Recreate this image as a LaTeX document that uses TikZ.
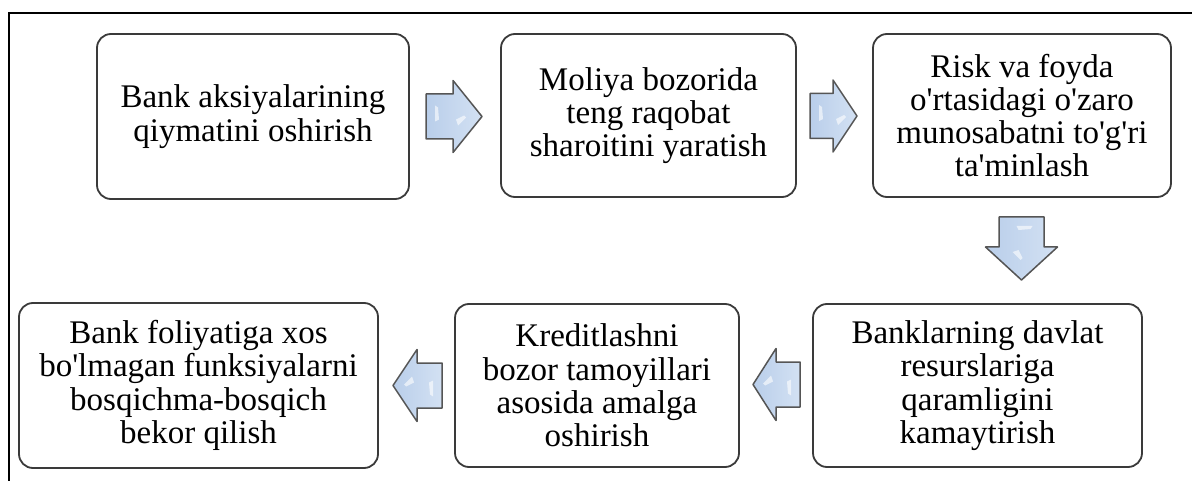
\documentclass[tikz,border=0pt]{standalone}
\usepackage{fontspec}
\setmainfont{Liberation Serif}[Ligatures=TeXOff]
\definecolor{boxline}{HTML}{3A3A3A}
\definecolor{arrowline}{HTML}{555555}
\definecolor{arrowA}{HTML}{B9CEEA}
\definecolor{arrowB}{HTML}{D3E1F3}
\newcommand\blockarrow[5]{%
  \begin{scope}[shift={(#1,#2)},rotate=#3]
    \draw[arrowbody] (-#4/2,-22.5) -- (#4/2-#5,-22.5) -- (#4/2-#5,-36) -- (#4/2,0)
      -- (#4/2-#5,36) -- (#4/2-#5,22.5) -- (-#4/2,22.5) -- cycle;
    \fill[arrowshine] (-#4/2+9,-11) -- (-#4/2+12,-9) -- (-#4/2+13,3) -- (-#4/2+9,5) -- cycle;
    \fill[arrowshine] (#4/2-#5+3,3) -- (#4/2-#5+11,-1) -- (#4/2-#5+13,1) -- (#4/2-#5+5,9) -- cycle;
  \end{scope}}
\begin{document}
\begin{tikzpicture}[x=1pt,y=-1pt,
  stage/.style={draw=boxline, line width=1.8pt, rounded corners=14pt, fill=white,
    align=center, inner sep=0pt, font=\fontsize{33}{33.3}\selectfont},
  arrowbody/.style={draw=arrowline, line width=1.5pt, line join=round,
    left color=arrowA, right color=arrowB},
  arrowshine/.style={fill=white, opacity=0.6},
  frameline/.style={draw=black, line width=2.6pt}]
\useasboundingbox (0,0) rectangle (1192,481);
\draw[frameline] (9,481) -- (9,13) -- (1192,13);

\node[stage, minimum width=312pt, minimum height=165pt] (b1) at (253,116.5)
  {Bank aksiyalarining\\qiymatini oshirish};
\node[stage, minimum width=295pt, minimum height=163pt] (b2) at (648.5,115.5)
  {Moliya bozorida\\teng raqobat\\sharoitini yaratish};
\node[stage, minimum width=298pt, minimum height=163pt] (b3) at (1022,115.5)
  {Risk va foyda\\o'rtasidagi o'zaro\\munosabatni to'g'ri\\ta'minlash};
\node[stage, minimum width=329pt, minimum height=163pt] (b6) at (977.5,385.5)
  {Banklarning davlat\\resurslariga\\qaramligini\\kamaytirish};
\node[stage, minimum width=284pt, minimum height=163pt] (b5) at (597,385.5)
  {Kreditlashni\\bozor tamoyillari\\asosida amalga\\oshirish};
\node[stage, minimum width=359pt, minimum height=165pt] (b4) at (198.5,385.5)
  {Bank foliyatiga xos\\bo'lmagan funksiyalarni\\bosqichma-bosqich\\bekor qilish};

\blockarrow{454}{116.5}{0}{56}{29}
\blockarrow{833.5}{116}{0}{47}{24}
\blockarrow{1021.5}{248.5}{-90}{63}{33}
\blockarrow{776.5}{384.5}{180}{47}{23}
\blockarrow{417.5}{385.5}{180}{49}{24}
\end{tikzpicture}
\end{document}
